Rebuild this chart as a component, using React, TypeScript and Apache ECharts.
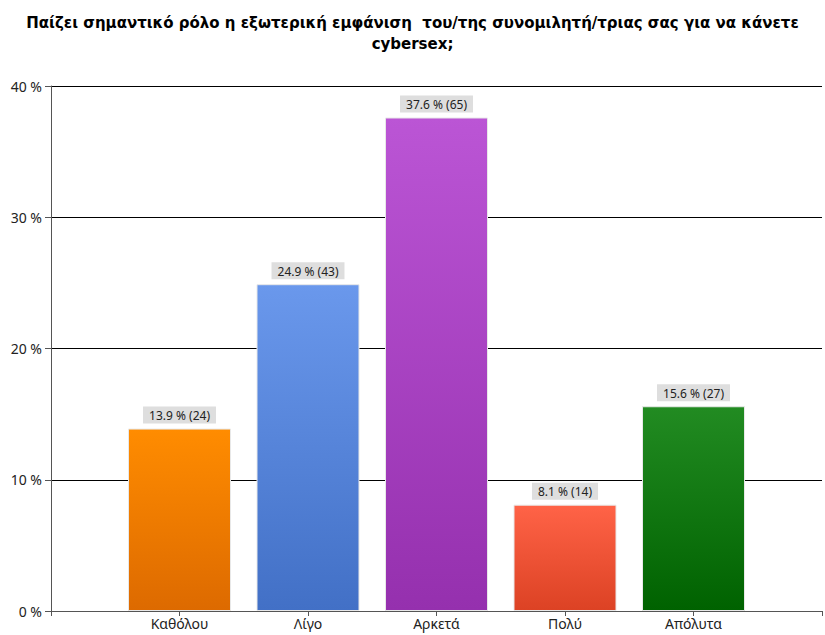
import React, { useEffect, useRef } from "react";
import * as echarts from "echarts";

const categories = ["Καθόλου", "Λίγο", "Αρκετά", "Πολύ", "Απόλυτα"];
const percents = [13.9, 24.9, 37.6, 8.1, 15.6];
const counts = [24, 43, 65, 14, 27];
const yTicks = [0, 10, 20, 30, 40];
const titleText =
  "Παίζει σημαντικό ρόλο η εξωτερική εμφάνιση  του/της συνομιλητή/τριας σας για να κάνετε\ncybersex;";

const gradients: [string, string][] = [
  ["#FF8C00", "#DD6A00"],
  ["#6A98EC", "#4270C6"],
  ["#BB55D5", "#9530AE"],
  ["#FF6347", "#DC4224"],
  ["#228B22", "#006200"],
];

export default function App() {
  const ref = useRef<HTMLDivElement>(null);
  useEffect(() => {
    if (!ref.current) return;
    const chart = echarts.init(ref.current, undefined, { renderer: "svg" });
    const axisCats = ["", ...categories, ""];
    const data: any[] = [null];
    percents.forEach((v, i) => {
      data.push({
        value: v,
        count: counts[i],
        itemStyle: {
          color: new echarts.graphic.LinearGradient(0, 0, 0, 1, [
            { offset: 0, color: gradients[i][0] },
            { offset: 1, color: gradients[i][1] },
          ]),
        },
      });
    });
    data.push(null);
    chart.setOption({
      animation: false,
      backgroundColor: "#ffffff",
      title: {
        text: titleText,
        left: "center",
        top: 7,
        textStyle: {
          fontFamily: "DejaVu Sans, Verdana, sans-serif",
          fontWeight: "bold",
          fontSize: 15,
          color: "#000",
          lineHeight: 21,
        },
      },
      grid: { left: 51, right: 0, top: 86, bottom: 24, containLabel: false },
      xAxis: {
        type: "category",
        data: axisCats,
        boundaryGap: false,
        axisLine: { show: true, lineStyle: { color: "#555", width: 1 } },
        axisTick: { show: true, length: 5, lineStyle: { color: "#555" } },
        axisLabel: {
          color: "#222",
          fontFamily: "Noto Sans, Open Sans, sans-serif",
          fontSize: 14,
          margin: 5,
          interval: 0,
        },
        splitLine: { show: false },
      },
      yAxis: {
        type: "value",
        min: yTicks[0],
        max: yTicks[yTicks.length - 1],
        interval: 10,
        axisLine: { show: true, lineStyle: { color: "#555", width: 1 } },
        axisTick: { show: true, length: 6, lineStyle: { color: "#555" } },
        axisLabel: {
          formatter: "{value} %",
          color: "#222",
          fontFamily: "Noto Sans, Open Sans, sans-serif",
          fontSize: 14,
          margin: 9,
        },
        splitLine: { show: true, lineStyle: { color: "#000", width: 1 } },
      },
      series: [
        {
          type: "bar",
          data,
          barWidth: 103,
          itemStyle: { borderColor: "#e8e8e8", borderWidth: 1 },
          label: {
            show: true,
            position: "top",
            distance: 5,
            formatter: (p: any) => `${p.value} % (${p.data.count})`,
            backgroundColor: "#dedede",
            padding: [3, 6, 2, 6],
            color: "#222",
            fontFamily: "Noto Sans, Open Sans, sans-serif",
            fontSize: 12,
          },
        },
      ],
    });
    return () => chart.dispose();
  }, []);
  return <div ref={ref} style={{ width: 825, height: 635, position: "absolute", left: 0, top: 0 }} />;
}
